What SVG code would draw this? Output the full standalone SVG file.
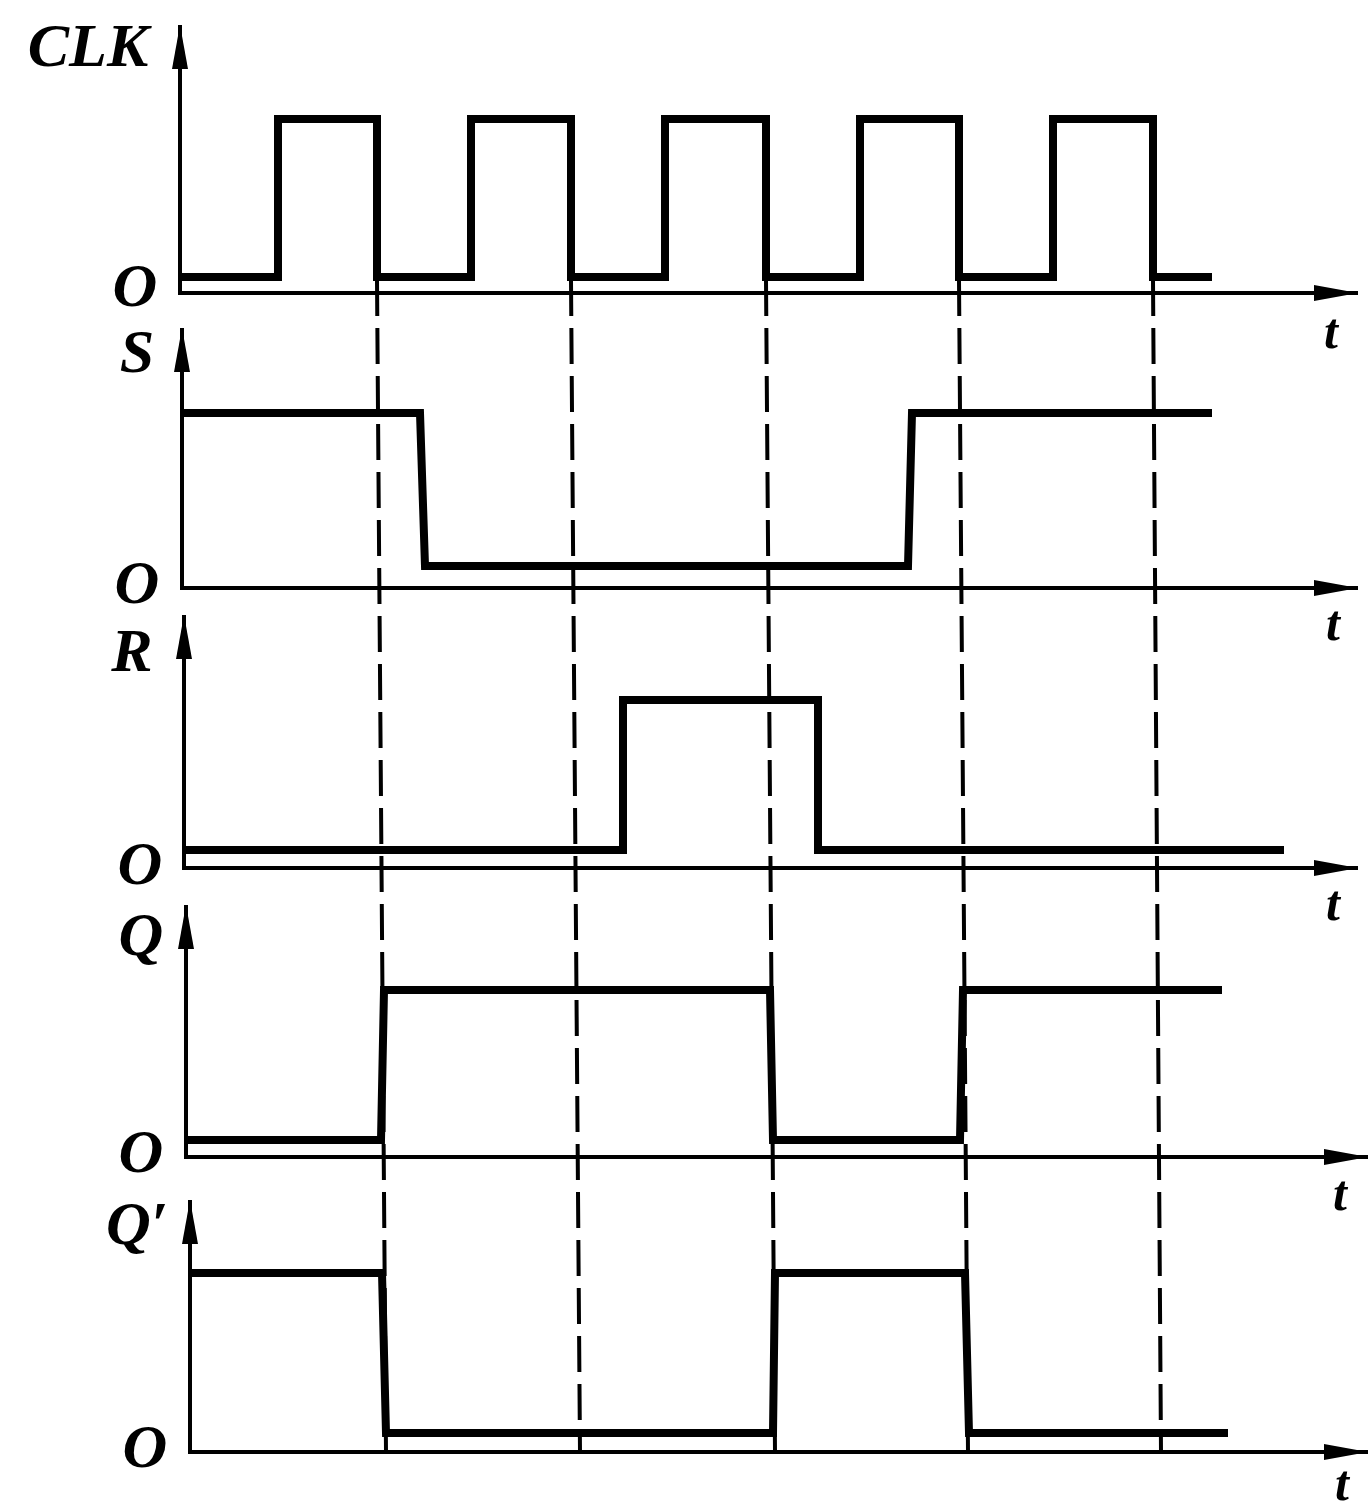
<svg xmlns="http://www.w3.org/2000/svg" width="1370" height="1510" viewBox="0 0 1370 1510">
<style>
.ax{stroke:#000;stroke-width:4;fill:none;marker-end:url(#ah)}
.wv{stroke:#000;stroke-width:8;fill:none;stroke-linejoin:miter;stroke-linecap:square}
.dl{stroke:#000;stroke-width:4;fill:none;stroke-dasharray:36 12}
.lb{font-family:"Liberation Serif","Times New Roman",serif;font-weight:bold;font-style:italic;font-size:62px;fill:#000;text-anchor:middle}
.tl{font-family:"Liberation Serif","Times New Roman",serif;font-weight:bold;font-style:italic;font-size:50px;fill:#000;text-anchor:middle}
</style>
<defs>
<marker id="ah" markerUnits="userSpaceOnUse" markerWidth="46" markerHeight="18" refX="44" refY="9" orient="auto" viewBox="0 0 46 18">
<path d="M0,1 L44,9 L0,17 Z" fill="#000"/>
</marker>
</defs>
<rect width="1370" height="1510" fill="#fff"/>

<g id="guides">
<line class="dl" x1="377" y1="280" x2="386" y2="1452"/>
<line class="dl" x1="571" y1="280" x2="580" y2="1452"/>
<line class="dl" x1="766" y1="280" x2="775" y2="1452"/>
<line class="dl" x1="959" y1="280" x2="968" y2="1452"/>
<line class="dl" x1="1153" y1="280" x2="1161" y2="1452"/>
</g>

<g id="clk">
<line class="ax" x1="180" y1="293" x2="180" y2="25"/>
<line class="ax" x1="178" y1="293" x2="1358" y2="293"/>
<path class="wv" d="M184,277 H278 V119 H377 V277 H471 V119 H571 V277 H665 V119 H766 V277 H860 V119 H959 V277 H1053 V119 H1153 V277 H1208"/>
<text class="lb" x="88" y="66" font-size="60">CLK</text>
<text class="lb" x="135" y="306">O</text>
<text class="tl" x="1331" y="348">t</text>
</g>

<g id="s">
<line class="ax" x1="182" y1="588" x2="182" y2="328"/>
<line class="ax" x1="180" y1="588" x2="1358" y2="588"/>
<path class="wv" d="M186,413 H420 L425,566 H908 L912,413 H1208"/>
<text class="lb" x="137" y="372">S</text>
<text class="lb" x="137" y="603">O</text>
<text class="tl" x="1333" y="640">t</text>
</g>

<g id="r">
<line class="ax" x1="184" y1="868" x2="184" y2="615"/>
<line class="ax" x1="182" y1="868" x2="1358" y2="868"/>
<path class="wv" d="M188,850 H623 V700 H818 V850 H1280"/>
<text class="lb" x="132" y="671">R</text>
<text class="lb" x="140" y="884">O</text>
<text class="tl" x="1333" y="920">t</text>
</g>

<g id="q">
<line class="ax" x1="186" y1="1157" x2="186" y2="905"/>
<line class="ax" x1="184" y1="1157" x2="1368" y2="1157"/>
<path class="wv" d="M189,1140 H381 L384,990 H770 L773,1140 H960 L963,990 H1218"/>
<text class="lb" x="141" y="955">Q</text>
<text class="lb" x="141" y="1172">O</text>
<text class="tl" x="1340" y="1210">t</text>
</g>

<g id="qn">
<line class="ax" x1="190" y1="1452" x2="190" y2="1200"/>
<line class="ax" x1="188" y1="1452" x2="1368" y2="1452"/>
<path class="wv" d="M193,1273 H382 L386,1433 H773 L775,1273 H965 L969,1433 H1224"/>
<text class="lb" x="137" y="1244">Q′</text>
<text class="lb" x="145" y="1467">O</text>
<text class="tl" x="1342" y="1500">t</text>
</g>
</svg>
